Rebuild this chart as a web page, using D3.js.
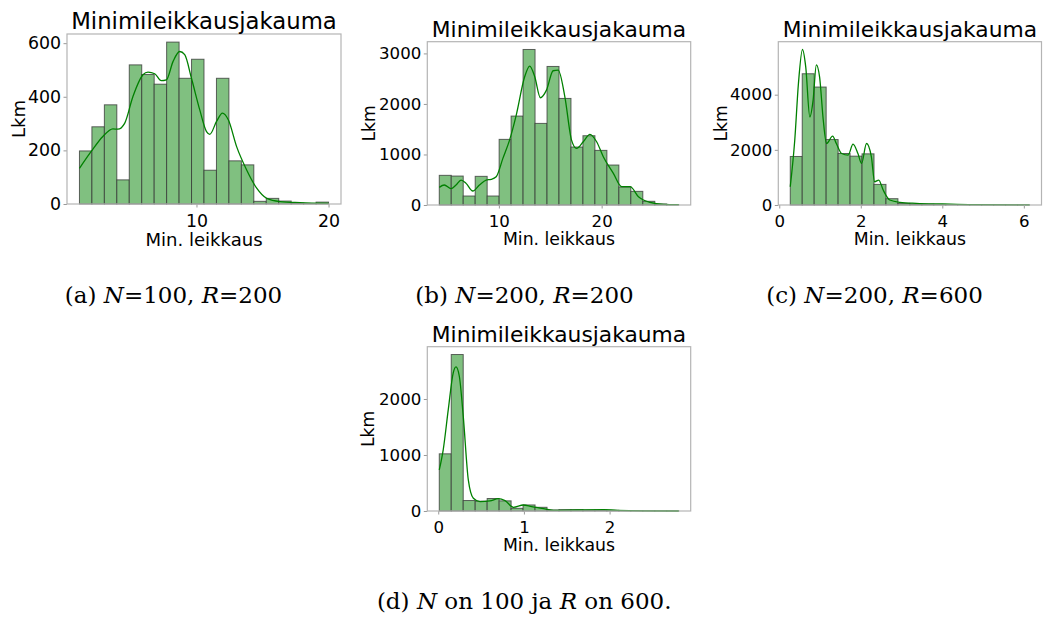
<!DOCTYPE html>
<html>
<head>
<meta charset="utf-8">
<script src="https://cdn.jsdelivr.net/npm/d3@7"></script>
<style>
  body { margin: 0; background: #fff; }
  svg { display: block; }
</style>
</head>
<body>
<script>
const W = 1043, H = 617

// (a) N=100, R=200
const countsA = [198, 288, 370, 90, 519, 483, 447, 604, 469, 540, 126, 469, 161, 146, 10, 21, 11, 3, 2, 7]
const rangeA = [1.14, 20.0]
const kdeXA = [1.14, 2.03, 2.91, 3.67, 4.05, 4.56, 5.19, 5.95, 6.33, 6.84, 7.34, 7.72, 8.23, 8.73, 9.11, 9.62, 10.25, 10.76, 11.01, 11.52, 11.97, 12.41, 13.04, 13.8, 14.56, 15.32, 16.33, 17.85, 20.0]
const kdeYA = [133, 196, 252, 280, 279, 301, 401, 482, 492, 486, 460, 463, 532, 569, 557, 469, 351, 270, 260, 308, 339, 314, 214, 127, 59, 21, 9, 5, 2]
const xTicksA = [10, 20]
const yTicksA = [0, 200, 400, 600]

// (b) N=200, R=200
const countsB = [587, 573, 178, 567, 178, 1299, 1760, 3078, 1615, 2742, 2109, 1147, 1371, 1081, 791, 356, 270, 73, 20, 7]
const rangeB = [4.2, 27.5]
const kdeXB = [4.2, 4.69, 5.34, 5.83, 6.32, 6.81, 7.46, 8.11, 8.76, 9.25, 9.74, 10.39, 11.04, 11.69, 12.51, 13.0, 13.49, 14.04, 14.63, 15.28, 15.77, 16.42, 17.07, 17.56, 18.21, 18.86, 19.51, 20.16, 21.14, 21.95, 22.77, 23.58, 24.72, 26.03, 27.5]
const kdeYB = [349, 396, 323, 396, 494, 428, 277, 396, 494, 508, 560, 923, 1285, 1780, 2538, 2749, 2538, 2123, 2274, 2657, 2670, 2142, 1285, 1121, 1252, 1398, 1252, 956, 626, 363, 363, 165, 53, 13, 7]
const xTicksB = [10, 20]
const yTicksB = [0, 1000, 2000, 3000]

// (c) N=200, R=600
const countsC = [1759, 4759, 4277, 2373, 1867, 1771, 1855, 747, 229, 60, 40, 30, 20, 14, 8, 6, 4, 3, 2, 2]
const rangeC = [0.27, 6.14]
const kdeXC = [0.27, 0.38, 0.47, 0.57, 0.65, 0.75, 0.83, 0.91, 0.99, 1.08, 1.16, 1.31, 1.40, 1.53, 1.69, 1.81, 1.93, 2.02, 2.14, 2.26, 2.34, 2.44, 2.55, 2.71, 2.96, 3.36, 4.0, 4.75, 6.14]
const kdeYC = [663, 2349, 4398, 5639, 5000, 3193, 3795, 5084, 4639, 3072, 2229, 2494, 2229, 1867, 1807, 2205, 1867, 1506, 2229, 1747, 843, 904, 542, 181, 96, 60, 36, 12, 2]
const xTicksC = [0, 2, 4, 6]
const yTicksC = [0, 2000, 4000]

// (d) N on 100 ja R on 600
const countsD = [1021, 2794, 187, 175, 223, 181, 48, 108, 66, 18, 24, 24, 18, 18, 12, 6, 4, 3, 2, 2]
const rangeD = [0.012, 2.807]
const kdeXD = [0.012, 0.058, 0.117, 0.175, 0.207, 0.246, 0.292, 0.351, 0.41, 0.487, 0.604, 0.70, 0.78, 0.877, 0.994, 1.09, 1.21, 1.345, 1.62, 1.93, 2.09, 2.807]
const kdeYD = [734, 1093, 1809, 2466, 2573, 2406, 1690, 555, 227, 167, 179, 221, 185, 66, 107, 78, 48, 12, 18, 24, 12, 0]
const xTicksD = [0, 1, 2]
const yTicksD = [0, 1000, 2000]

const titleText = 'Minimileikkausjakauma'
const xLabelText = 'Min. leikkaus'
const yLabelText = 'Lkm'

const svg = d3.select('body').append('svg')
    .attr('width', W)
    .attr('height', H)

svg.append('rect').attr('width', W).attr('height', H).attr('fill', '#fff')

function drawPanel(p) {
    const g = svg.append('g')
    const s = p.scale
    const pad = (p.range[1] - p.range[0]) * 0.05
    const x = d3.scaleLinear()
        .domain([p.range[0] - pad, p.range[1] + pad])
        .range([p.left, p.right])
    const yMax = d3.max(p.counts.concat(p.kdeY)) * 1.05
    const y = d3.scaleLinear()
        .domain([0, yMax])
        .range([p.bottom, p.top])

    const binW = (p.range[1] - p.range[0]) / p.counts.length

    // histogram bars
    g.selectAll('.bar')
        .data(p.counts)
        .enter()
        .append('rect')
        .attr('x', function (d, i) { return x(p.range[0] + i * binW) })
        .attr('width', function (d, i) { return x(p.range[0] + (i + 1) * binW) - x(p.range[0] + i * binW) })
        .attr('y', function (d) { return y(d) })
        .attr('height', function (d) { return y(0) - y(d) })
        .attr('fill', '#80c080')
        .attr('stroke', '#333')
        .attr('stroke-opacity', 0.75)
        .attr('stroke-width', 1)

    // kde curve
    const line = d3.line()
        .x(function (d) { return x(d[0]) })
        .y(function (d) { return y(d[1]) })
        .curve(d3.curveMonotoneX)
    g.append('path')
        .attr('d', line(d3.zip(p.kdeX, p.kdeY)))
        .attr('fill', 'none')
        .attr('stroke', '#008000')
        .attr('stroke-width', 1.3)

    // axes
    const xAxis = g.append('g')
        .attr('transform', 'translate(0,' + p.bottom + ')')
        .call(d3.axisBottom(x).tickValues(p.xTicks).tickSize(3.5).tickPadding(6.5 * s).tickFormat(d3.format('d')))
    const yAxis = g.append('g')
        .attr('transform', 'translate(' + p.left + ',0)')
        .call(d3.axisLeft(y).tickValues(p.yTicks).tickSize(3.5).tickPadding(2.5).tickFormat(d3.format('d')))
    ;[xAxis, yAxis].forEach(function (a) {
        a.select('.domain').remove()
        a.selectAll('line').attr('stroke', '#999')
        a.selectAll('text')
            .attr('fill', '#000')
            .style('font-family', 'DejaVu Sans')
            .style('font-size', (16.6 * s) + 'px')
    })

    // frame
    g.append('rect')
        .attr('x', p.left)
        .attr('y', p.top)
        .attr('width', p.right - p.left)
        .attr('height', p.bottom - p.top)
        .attr('fill', 'none')
        .attr('stroke', '#b4b4b4')
        .attr('stroke-width', 1.2)

    // title and labels
    g.append('text')
        .attr('x', (p.left + p.right) / 2)
        .attr('y', p.top - 5 * s)
        .attr('text-anchor', 'middle')
        .style('font-family', 'DejaVu Sans')
        .style('font-size', (21.8 * s) + 'px')
        .text(titleText)
    g.append('text')
        .attr('x', (p.left + p.right) / 2)
        .attr('y', p.bottom + 40 * s)
        .attr('text-anchor', 'middle')
        .style('font-family', 'DejaVu Sans')
        .style('font-size', (17.3 * s) + 'px')
        .text(xLabelText)
    g.append('text')
        .attr('transform', 'translate(' + (p.left - p.yLabelOff) + ',' + ((p.top + p.bottom) / 2) + ') rotate(-90)')
        .attr('text-anchor', 'middle')
        .style('font-family', 'DejaVu Sans')
        .style('font-size', (17.3 * s) + 'px')
        .text(yLabelText)
}

drawPanel({ counts: countsA, range: rangeA, kdeX: kdeXA, kdeY: kdeYA, xTicks: xTicksA, yTicks: yTicksA,
    left: 67, right: 341, top: 34, bottom: 204, scale: 1.045, yLabelOff: 42 })
drawPanel({ counts: countsB, range: rangeB, kdeX: kdeXB, kdeY: kdeYB, xTicks: xTicksB, yTicks: yTicksB,
    left: 427.3, right: 690.7, top: 41.7, bottom: 205, scale: 1, yLabelOff: 52 })
drawPanel({ counts: countsC, range: rangeC, kdeX: kdeXC, kdeY: kdeYC, xTicks: xTicksC, yTicks: yTicksC,
    left: 778.3, right: 1041.5, top: 41.7, bottom: 205, scale: 1, yLabelOff: 51.5 })
drawPanel({ counts: countsD, range: rangeD, kdeX: kdeXD, kdeY: kdeYD, xTicks: xTicksD, yTicks: yTicksD,
    left: 427.3, right: 690.7, top: 346.7, bottom: 511, scale: 1, yLabelOff: 53 })

// captions
const captions = [
    { x: 173.5, y: 302.5, parts: [['(a) ', 'normal'], ['N', 'italic'], ['=100, ', 'normal'], ['R', 'italic'], ['=200', 'normal']] },
    { x: 524.5, y: 302.5, parts: [['(b) ', 'normal'], ['N', 'italic'], ['=200, ', 'normal'], ['R', 'italic'], ['=200', 'normal']] },
    { x: 874.5, y: 302.5, parts: [['(c) ', 'normal'], ['N', 'italic'], ['=200, ', 'normal'], ['R', 'italic'], ['=600', 'normal']] },
    { x: 524.2, y: 608.5, parts: [['(d) ', 'normal'], ['N', 'italic'], [' on 100 ja ', 'normal'], ['R', 'italic'], [' on 600.', 'normal']] }
]
captions.forEach(function (c) {
    const t = svg.append('text')
        .attr('x', c.x)
        .attr('y', c.y)
        .attr('text-anchor', 'middle')
        .style('font-family', 'DejaVu Serif')
        .style('font-size', '23px')
        .style('white-space', 'pre')
    c.parts.forEach(function (pt) {
        t.append('tspan').style('font-style', pt[1]).text(pt[0])
    })
})
</script>
</body>
</html>
